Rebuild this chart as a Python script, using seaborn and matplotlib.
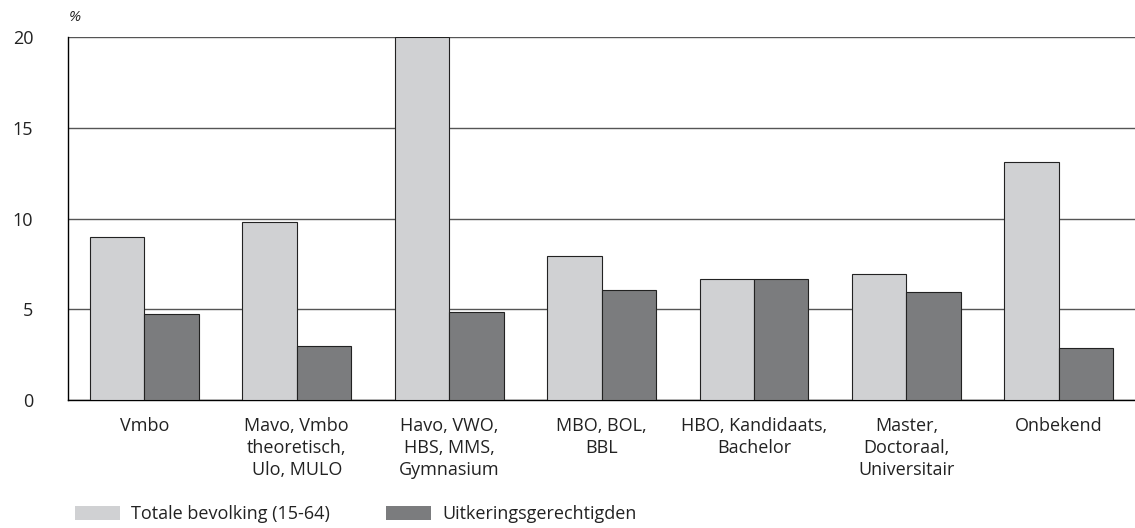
import pandas as pd
import matplotlib
matplotlib.use("Agg")
import matplotlib.pyplot as plt
import seaborn as sns
from matplotlib.patches import Patch

categories = [
    "Vmbo",
    "Mavo, Vmbo\ntheoretisch,\nUlo, MULO",
    "Havo, VWO,\nHBS, MMS,\nGymnasium",
    "MBO, BOL,\nBBL",
    "HBO, Kandidaats,\nBachelor",
    "Master,\nDoctoraal,\nUniversitair",
    "Onbekend",
]
totale = [9.0, 9.8, 20.0, 7.95, 6.7, 6.95, 13.1]
uitkering = [4.75, 3.0, 4.85, 6.05, 6.65, 5.95, 2.9]
series = ["Totale bevolking (15-64)", "Uitkeringsgerechtigden"]
colors = ["#d0d1d3", "#7b7c7e"]

df = pd.DataFrame({
    "cat": categories * 2,
    "val": totale + uitkering,
    "serie": [series[0]] * len(categories) + [series[1]] * len(categories),
})

sns.set_style("white")
plt.rcParams["font.family"] = ["Open Sans", "DejaVu Sans"]

fig = plt.figure(figsize=(11.35, 5.28), dpi=100)
ax = fig.add_axes([0.06, 0.242, 0.94, 0.688])

sns.barplot(data=df, x="cat", y="val", hue="serie", palette=colors,
            width=0.714, gap=0, edgecolor="#222222", linewidth=0.8,
            legend=False, ax=ax, zorder=3)

ax.set_ylim(0, 20)
ax.set_xlim(-0.5, 6.5)
ax.set_yticks([0, 5, 10, 15, 20])
ax.yaxis.grid(True, color="#555555", linewidth=1.0, zorder=0)
ax.set_axisbelow(True)
ax.set_xlabel("")
ax.set_ylabel("")
for s in ["top", "right"]:
    ax.spines[s].set_visible(False)
for s in ["left", "bottom"]:
    ax.spines[s].set_color("black")
    ax.spines[s].set_linewidth(1.0)
ax.tick_params(axis="both", length=0, labelsize=13, colors="#222222")
ax.tick_params(axis="y", pad=25)
ax.tick_params(axis="x", pad=12)
for lbl in ax.get_xticklabels():
    lbl.set_linespacing(1.3)

fig.text(0.061, 0.966, "%", fontsize=11, style="italic", color="#222222", va="center")

handles = [Patch(facecolor=c, edgecolor="none") for c in colors]
fig.legend(handles, series, loc="lower left", bbox_to_anchor=(0.052, -0.022),
           ncol=2, frameon=False, fontsize=13, handlelength=2.5, handleheight=0.75,
           handletextpad=0.6, columnspacing=3.1, labelcolor="#222222")

fig.savefig("out.png", dpi=100)
